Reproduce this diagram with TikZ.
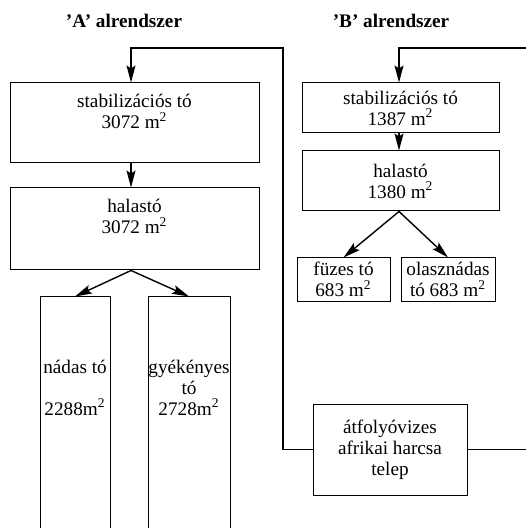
\documentclass[tikz,border=0pt]{standalone}
\usepackage{fontspec}
\setmainfont{Liberation Serif}
\usetikzlibrary{arrows.meta}

% 顶端对齐的框内文字
\newcommand{\tobox}[4]{\parbox[c][#2][t]{#1}{\centering\rule{0pt}{#3}#4}}

\begin{document}
\begin{tikzpicture}[x=0.5pt, y=-0.5pt,
    >={Stealth[length=8.5pt, width=4.5pt, inset=1.5pt]},
    font=\fontsize{9.6}{10.5}\selectfont,
    pond/.style={draw, line width=0.5pt, inner sep=0pt, align=center},
    flow/.style={->, line width=0.7pt},
    title/.style={font=\fontsize{9.6}{10.5}\selectfont\bfseries}]
    \useasboundingbox (0,0) rectangle (525,528);

    % 标题
    \node[title] (ta) at (124,21) {'A' alrendszer};
    \node[title] (tb) at (391,21) {'B' alrendszer};

    % A 子系统
    \node[pond] (a1) at (134.5,123) {\tobox{124.5pt}{40pt}{12.5pt}{stabilizációs tó\\3072 m\textsuperscript{2}}};
    \node[pond] (a2) at (134.5,229) {\tobox{124.5pt}{41pt}{12.5pt}{halastó\\3072 m\textsuperscript{2}}};
    \node[pond] (nad) at (75,427) {\tobox{35pt}{130pt}{38pt}{nádas tó\\[10.5pt]2288m\textsuperscript{2}}};
    \node[pond] (gye) at (189,427) {\tobox{41pt}{130pt}{38pt}{gyékényes\\tó\\2728m\textsuperscript{2}}};

    % B 子系统
    \node[pond, minimum width=98.5pt, minimum height=25pt] (b1) at (400.5,108) {stabilizációs tó\\1387 m\textsuperscript{2}};
    \node[pond, minimum width=98.5pt, minimum height=30pt] (b2) at (400.5,181) {halastó\\1380 m\textsuperscript{2}};
    \node[pond, minimum width=46.5pt, minimum height=21.5pt] (fuz) at (343.5,279.5) {füzes tó\\683 m\textsuperscript{2}};
    \node[pond, minimum width=47pt, minimum height=21.5pt] (ola) at (448,279.5) {olasznádas\\tó 683 m\textsuperscript{2}};

    % 鲶鱼养殖场
    \node[pond, minimum width=77pt, minimum height=45.5pt] (cat) at (390,449.5) {átfolyóvizes\\afrikai harcsa\\telep};

    % 回路的拐点
    \coordinate (ax) at (131,48);
    \coordinate (ra) at (283,48);
    \coordinate (bx) at (399,48);
    \coordinate (rb) at (540,48);

    % A 的水流
    \draw[flow] (cat.west) -| (ra) -| (ax |- a1.north);
    \draw[flow] (ax |- a1.south) -- (ax |- a2.north);
    \draw[flow] (ax |- a2.south) -- (nad.north);
    \draw[flow] (ax |- a2.south) -- (gye.north);

    % B 的水流
    \draw[flow] (cat.east) -| (rb) -| (bx |- b1.north);
    \draw[flow] (bx |- b1.south) -- (bx |- b2.north);
    \draw[flow] (bx |- b2.south) -- (fuz.north);
    \draw[flow] (bx |- b2.south) -- (ola.north);
\end{tikzpicture}
\end{document}
